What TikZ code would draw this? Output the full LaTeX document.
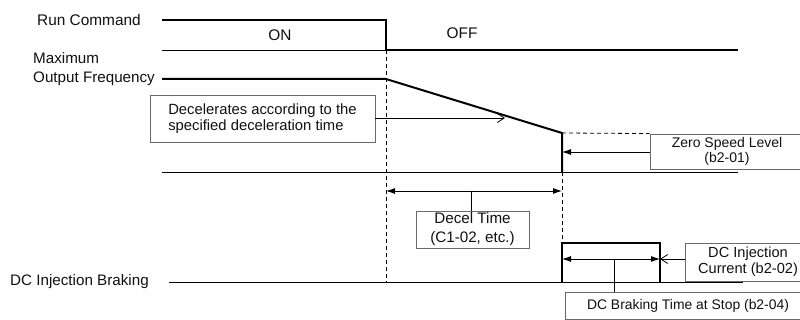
\documentclass[tikz,border=0pt]{standalone}
\usepackage{fontspec}
\setmainfont{Liberation Sans}
\usetikzlibrary{arrows.meta}
\definecolor{txt}{HTML}{111111}
\definecolor{thin}{HTML}{444444}
\definecolor{boxc}{HTML}{6A6A6A}
\tikzset{
  lbl/.style={inner sep=0pt, text=txt, font=\fontsize{15.4}{18}\selectfont},
  callout/.style={draw=boxc, line width=0.9pt, inner sep=0pt, text=txt, align=center, font=\fontsize{14.8}{16.5}\selectfont},
  sig/.style={line width=2pt, black, line join=miter},
  base/.style={line width=1pt, thin},
  guide/.style={line width=0.8pt, black, dash pattern=on 4pt off 3pt},
  lead/.style={line width=0.9pt, black},
  fillarr/.style={lead, -{Latex[length=9pt,width=6pt]}},
  dblarr/.style={lead, {Latex[length=9pt,width=6pt]}-{Latex[length=9pt,width=6pt]}},
  openarr/.style={lead, -{Straight Barb[length=7pt,width=9pt,line width=0.8pt]}}
}
\begin{document}
\begin{tikzpicture}[x=1pt,y=-1pt]
\clip (0,0) rectangle (800,320);
\fill[white] (0,0) rectangle (800,320);

% ---- key coordinates
\coordinate (r0) at (162,20);
\coordinate (r1) at (386,20);
\coordinate (r2) at (386,50);
\coordinate (r3) at (738,50);
\coordinate (rb) at (162,50);
\coordinate (f0) at (162,79);
\coordinate (f1) at (386,79);
\coordinate (f2) at (562,133);
\coordinate (f3) at (562,172);
\coordinate (fb0) at (162,172);
\coordinate (fb1) at (738,172);
\coordinate (d0) at (169,282);
\coordinate (d1) at (743,282);
\coordinate (p0) at (562,282);
\coordinate (p1) at (562,243);
\coordinate (p2) at (660,243);
\coordinate (p3) at (660,282);
\coordinate (g0) at (386,282);
\coordinate (ta) at (386,191);
\coordinate (tb) at (562,191);
\coordinate (tm) at (471,191);
\coordinate (ba) at (562,259);
\coordinate (bb) at (660,259);
\coordinate (bm) at (614,259);
\coordinate (ramp) at (505,118);
\coordinate (zs) at (562,152);

% ---- labels
\node[lbl, anchor=west] (runlbl) at (37,20) {Run Command};
\node[lbl, anchor=west, align=left, font=\fontsize{15.2}{19}\selectfont] (freqlbl) at (33,69.5) {Maximum\\Output Frequency};
\node[lbl, anchor=west, font=\fontsize{15.2}{18}\selectfont] (dclbl) at (10,282) {DC Injection Braking};
\node[lbl] (on) at (280,35) {ON};
\node[lbl] (off) at (462,33) {OFF};

% ---- signal lines
\draw[base] (rb) -- (r2);
\draw[sig] (r0) -- (r1) -- (r2) -- (r3);
\draw[base] (fb0) -- (fb1);
\draw[sig] (f0) -- (f1) -- (f2) -- (f3);
\draw[base] (d0) -- (d1);
\draw[sig] (p0) -- (p1) -- (p2) -- (p3);

% ---- guides
\draw[guide] (r2) -- (g0);
\draw[guide] (f3) -- (p1);

% ---- callout boxes
\node[callout, align=left, minimum width=225pt, minimum height=47pt, fill=white] (dec) at (262.5,118.5) {Decelerates according to the\\specified deceleration time};
\node[callout, minimum width=154pt, minimum height=35pt, font=\fontsize{14}{15.5}\selectfont] (zero) at (727,151.5) {Zero Speed Level\\(b2-01)};
\node[callout, minimum width=113pt, minimum height=37pt, font=\fontsize{15.2}{19}\selectfont] (dt) at (472.5,229.5) {Decel Time\\(C1-02, etc.)};
\node[callout, minimum width=126pt, minimum height=38pt, font=\fontsize{14.6}{16}\selectfont] (dci) at (748,262) {DC Injection\\Current (b2-02)};
\node[callout, minimum width=246pt, minimum height=27pt, font=\fontsize{13.9}{16}\selectfont] (dbt) at (688,305.5) {DC Braking Time at Stop (b2-04)};

\draw[guide] (f2) -- (zero.north west);

% ---- connectors
\draw[openarr] (dec.east |- ramp) -- (ramp);
\draw[fillarr] (zero.west |- zs) -- (zs);
\draw[dblarr] (ta) -- (tb);
\draw[lead] (tm) -- (dt.north -| tm);
\draw[dblarr] (ba) -- (bb);
\draw[lead] (bm) -- (dbt.north -| bm);
\draw[openarr] (dci.west |- bb) -- (bb);
\end{tikzpicture}
\end{document}
